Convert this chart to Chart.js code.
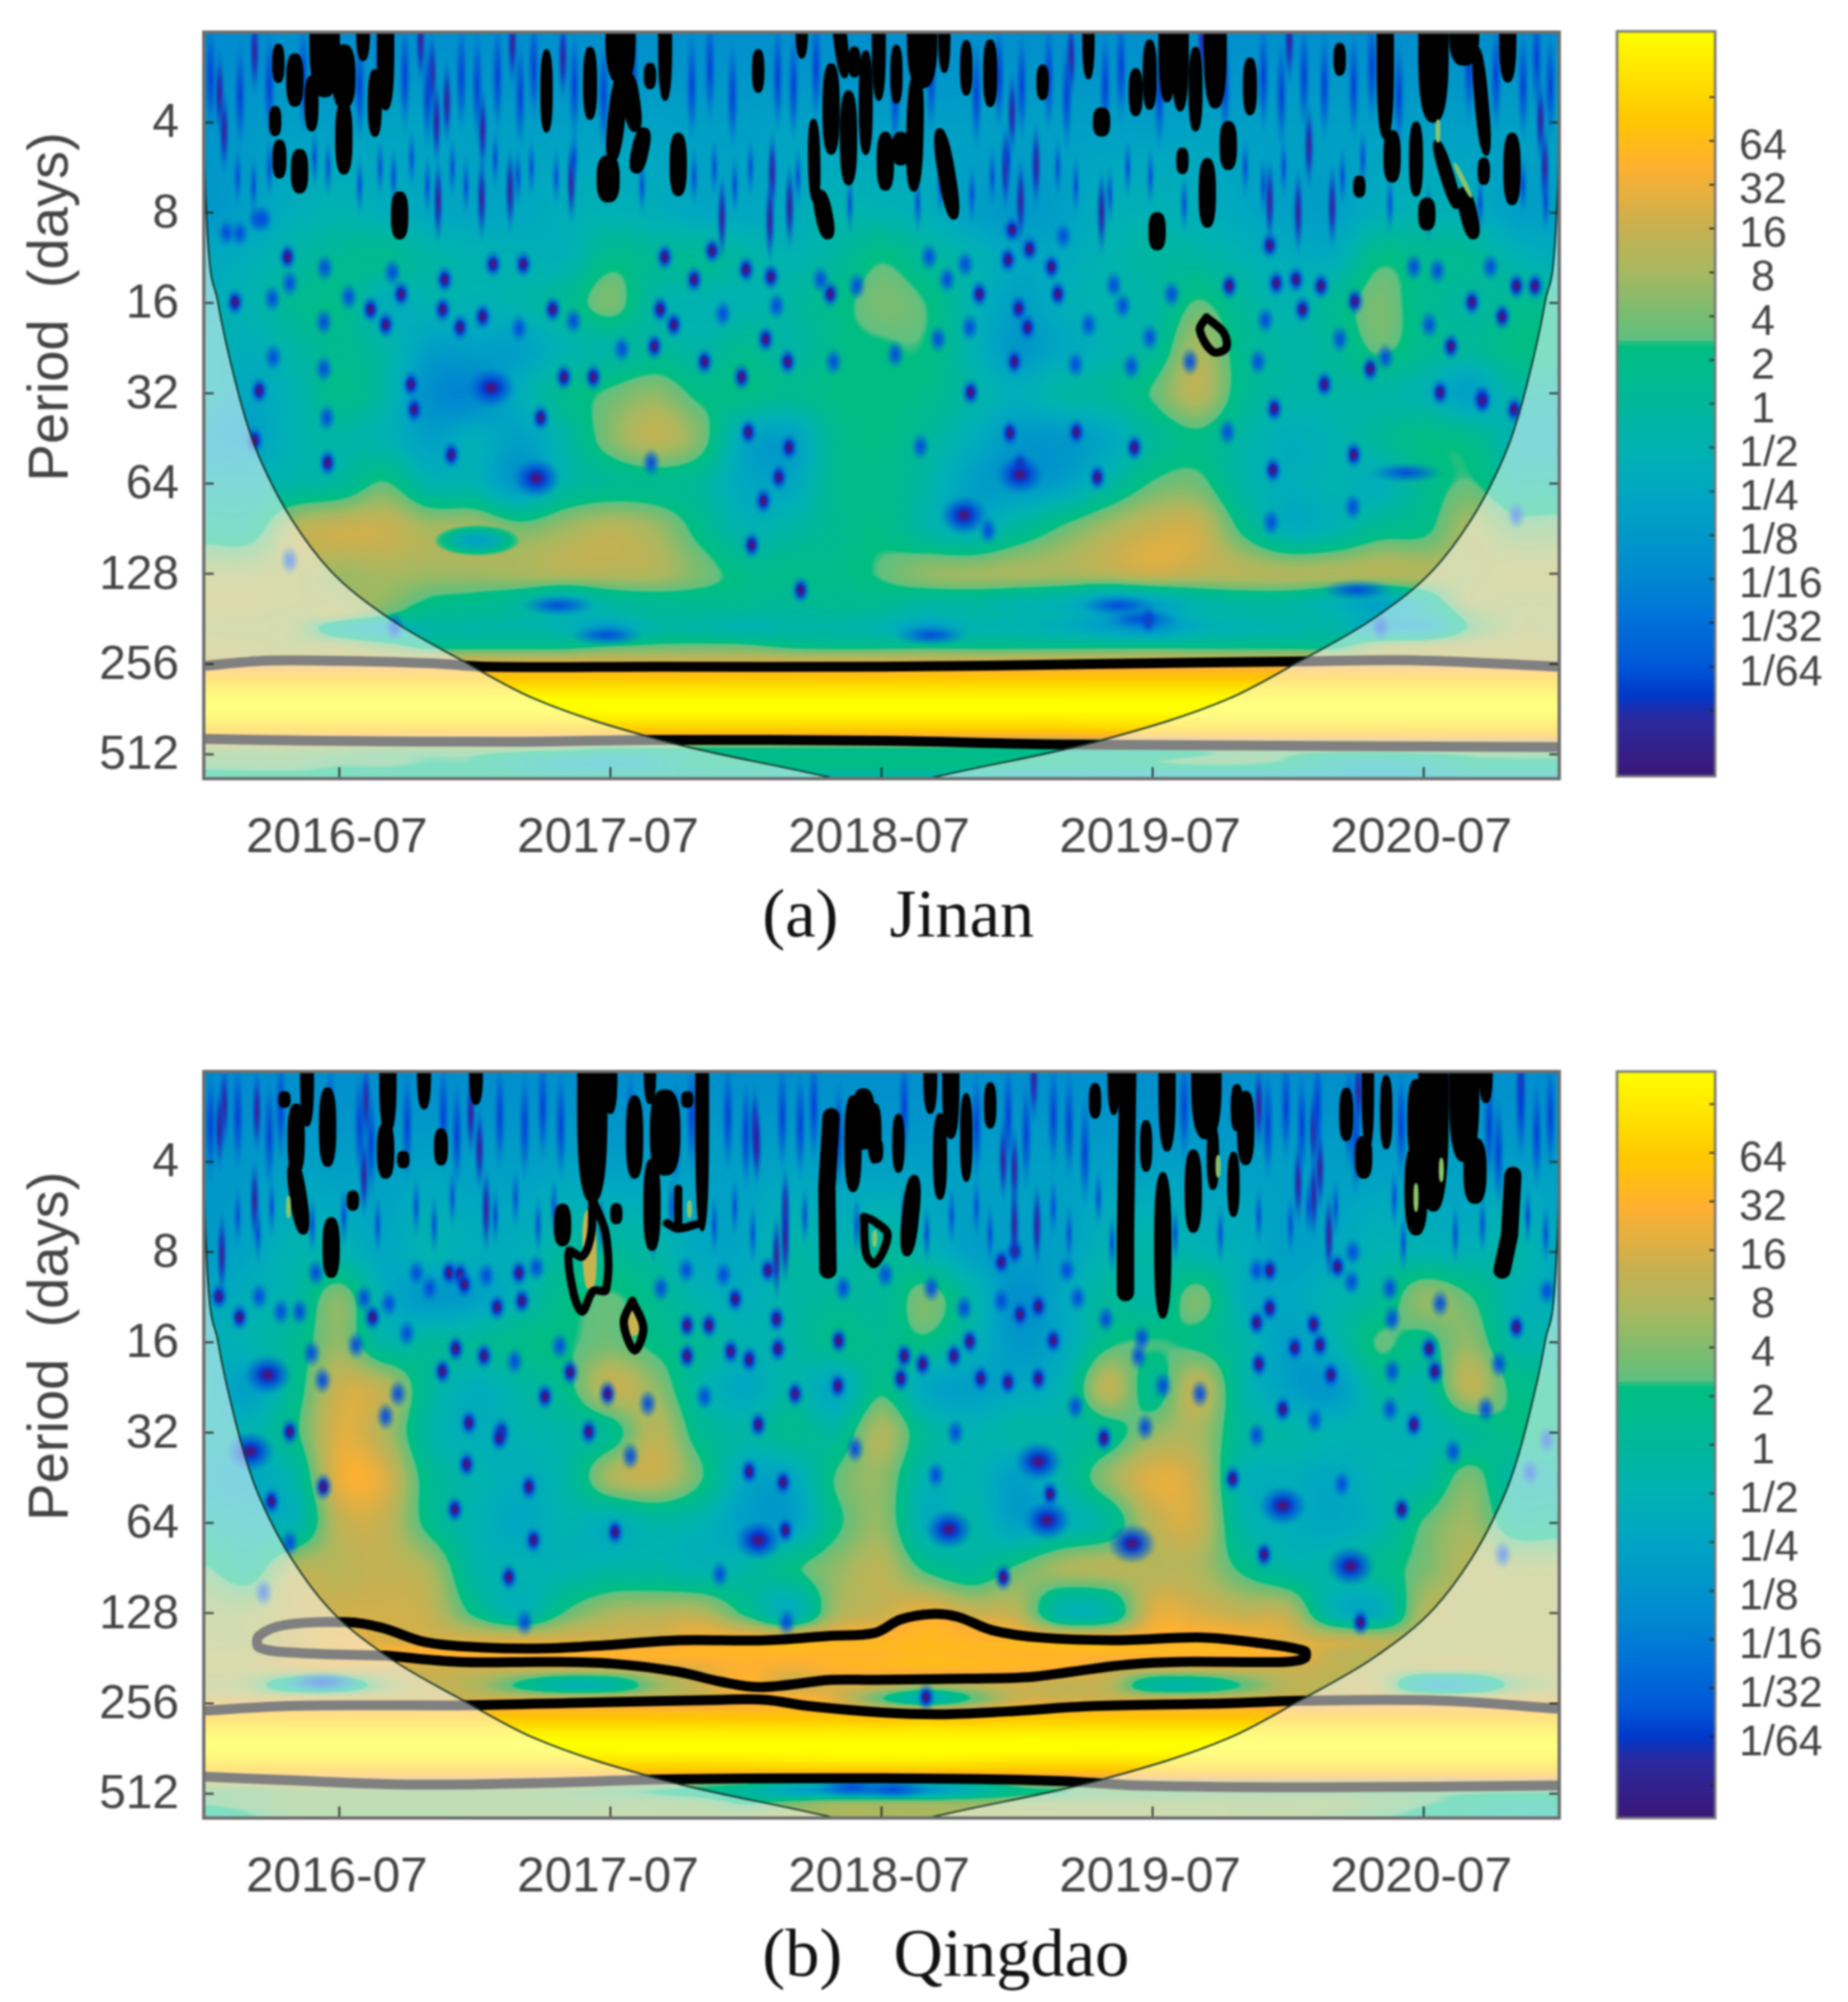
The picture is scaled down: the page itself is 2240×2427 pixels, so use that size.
<!DOCTYPE html>
<html><head><meta charset="utf-8">
<script src="https://cdn.jsdelivr.net/npm/chart.js@4"></script>
<style>html,body{margin:0;background:#fff;width:2240px;height:2427px;overflow:hidden}canvas{position:absolute;filter:blur(.8px)}</style>
</head><body>
<canvas id="ja" width="1960" height="1167" style="left:0;top:0"></canvas>
<canvas id="qa" width="1960" height="1167" style="left:0;top:1260px"></canvas>
<canvas id="jb" width="290" height="1000" style="left:1950px;top:0"></canvas>
<canvas id="qb" width="290" height="1000" style="left:1950px;top:1260px"></canvas>
<script>
const colMonths=[0,2,4,6,8,10,12,14,16,18,20,22,24,26,28,30,32,34,36,38,40,42,44,46,48,50,52,54,56,58,60];
const rowLog2Periods=[1,2,3,3.5,4,4.5,5,5.5,6,6.5,7,7.3,7.45,7.6,7.8,7.95,8.1,8.45,8.75,8.95,9.1,9.27];
const xTickMonths=[6,18,30,42,54];
const xTickLabels=['2016-07','2017-07','2018-07','2019-07','2020-07'];
const yTickPeriods=[4,8,16,32,64,128,256,512];
const barTickPowers=[-7,-6,-5,-4,-3,-2,-1,0,1,2,3,4,5,6,7];
const barTickLabels=['','1/64','1/32','1/16','1/8','1/4','1/2',' 1',' 2',' 4',' 8','16','32','64',''];
const coiLeft=[[0,1],[0.02,2],[0.1,2.9],[0.62,3.98],[1.5,4.97],[2.16,5.52],[2.92,5.96],[3.9,6.4],[5.55,6.95],[8.07,7.47],[11.5,7.97],[14.6,8.38],[20.2,8.84],[27.6,9.25],[30,9.4]];
const coiRight=[[32.4,9.25],[39.8,8.84],[45.4,8.38],[48.5,7.97],[51.93,7.47],[54.45,6.95],[56.1,6.4],[57.08,5.96],[57.84,5.52],[58.5,4.97],[59.38,3.98],[59.9,2.9],[59.98,2],[60,1]];

const jinanPower=[
[-3.8,-3.8,-3.6,-3.6,-3.6,-3.6,-3.6,-3.6,-3.6,-3.6,-3.6,-3.6,-3.6,-3.6,-3.6,-3.6,-3.6,-3.6,-3.6,-3.6,-3.6,-3.6,-3.6,-3.6,-3.6,-3.6,-3.6,-3.6,-3.6,-3.6,-3.6],
[-3.2,-3,-2.6,-2.6,-2.4,-2.4,-2.6,-2.6,-2.6,-2.6,-2.4,-2.6,-2.6,-2.4,-2.6,-2.6,-2.6,-2.6,-2.6,-2.6,-2.6,-2.6,-2.4,-2.6,-2.6,-2.6,-2.6,-2.6,-2.6,-2.6,-2.6],
[-3,-2.5,-1.5,-1,-1.5,-2,-2.2,-2,-1.5,-1.2,-1.5,-2,-2,-1.8,-1,-1,-1.5,-2.5,-3,-2.5,-1.5,-1.2,-1.5,-2,-2.5,-2.5,-1.5,-1.2,-1.5,-2.5,-2.5],
[-2,-1.5,-.5,.3,.5,-.5,-1,-1.2,-1.2,.8,.2,.3,-.5,-1,-.2,1.2,0,-1,-2,-1.8,-1,-.3,-.3,-1,-1.6,-1.6,1,.5,.3,-1,-1.5],
[-1.5,-1,.3,.8,-1.5,-1,-1.2,-.8,.3,2,-.5,-1,-1,-.3,.8,2,1.3,-1,-2.5,-1.5,-.8,-.5,1.5,0,-1,.3,2,.5,-.3,.5,.5],
[-1,-1.5,-.5,.5,-.5,-2.5,-2.5,-2.5,-1,-.5,0,-.5,.5,-.5,.8,1.2,1.2,-1,-3,-2,-1,0,3,.5,-.5,0,1.6,.5,0,1,1],
[-1,-2,-1,.8,-.5,-3.5,-4,-1.5,.5,1.6,2.4,1,1,.5,1,1.1,.8,-.5,-1.5,-.5,0,1.5,3.5,.5,-.5,-.5,-.5,-1,-2.5,-.5,-.5],
[-2,-2.5,-1,-.5,-1,-2.5,-1.5,-2.5,-.5,2.2,3.6,2,-2,-2.5,.5,1,0,-1.5,-3,-3,-2,0,1,-.5,-1.5,-1,0,1,.8,-1,-1],
[-1,-1,-.5,0,1.5,-.8,-1,-3,-.5,.3,.5,0,-2,-2,.5,.8,-.5,-2.5,-3,-2.5,-.5,1.5,1.8,-.5,-1.5,-1,-1.5,.5,1.5,0,0],
[.5,.5,3.3,4,4,3,3,2,2.8,3.5,2.8,.8,-1,-.5,.5,1,-.5,-1.5,0,1.6,3,4,4,1,-1.5,-1,.5,1,3,2,2],
[3,3,3.2,2.8,3,2.8,2.8,3,3.3,3.3,3.2,2,.8,.8,.8,1.5,2.5,2.8,3,3,3.4,4,3.6,3.4,3.2,3.2,3.3,3.2,3,3.4,3.4],
[3.5,3.5,3.2,3,2.5,1.2,.8,0,-1.5,0,.5,.6,.5,.2,.5,.5,0,0,-.5,-1,-2.5,-2,-.5,0,0,-1,-2,0,3,3,3],
[3.3,3.2,3,3,1.5,.4,.2,-.3,-1.2,-.8,0,0,-.2,-.2,0,-.2,-1,-.5,-.8,-1.2,-2.5,-2.8,-1,-.5,-.4,-.8,-2,-1,2,3,3],
[3,3,2.8,0,-1.5,-.5,-.5,-.5,-1,-2.5,-.5,-.5,-1,-.5,-.5,-1,-2.5,-1,-1,-1.5,-2.5,-3.5,-1.5,-1,-.8,-.5,-2,-2,1.5,3,3],
[3.5,3.3,3,3,2,.8,.8,.8,.8,1.3,1.6,1.7,1.6,1,.8,.8,.8,.8,.8,.8,.8,.8,.8,.8,.8,.8,2.5,3,3.3,3.5,3.5],
[3.8,3.8,3.8,3.8,3.8,3.8,3.8,3.8,3.8,3.8,3.8,3.8,3.8,3.8,3.8,3.8,3.8,3.8,3.8,3.8,3.8,3.8,3.8,3.8,3.8,3.8,3.8,3.8,3.8,3.8,3.8],
[6,6,6,6,6,6,6,6,6,6,6,6,6,6,6,6,6,6,6,6,6,6,6,6,6,6,6,6,6,6,6],
[8.5,8.5,8.5,8.5,8.5,8.5,8.5,8.5,8.5,8.5,8.5,8.5,8.5,8.5,8.5,8.5,8.5,8.5,8.5,8.5,8.5,8.5,8.5,8.5,8.5,8.5,8.5,8.5,8.5,8.5,8.5],
[6.3,6.3,6.3,6.3,6.3,6.3,6.3,6.3,6.3,6.3,6.3,6.3,6.3,6.3,6.3,6.3,6.3,6.3,6.3,6.3,6.5,6.5,6.5,6.5,6.5,6.5,6.5,6.5,6.5,6.5,6.5],
[2.5,2.5,2.5,2.3,2,2,2,1.8,1.5,1,1,1,1,1,1,1,1,1,1,1,1,1,1.5,2,2,2,2,2.2,2.2,2.2,2.2],
[1.8,1.8,1.8,1.5,1.5,1.3,1.2,0,-1,-1.5,-.5,1,1,1,1,1,1,1,1,1,.5,1.2,1.5,1.5,1,-.5,-1,-.5,.8,1,1],
[.8,1,1,1,1,1,1,.8,.5,.8,.5,0,-.3,-.5,-.5,-.5,-.5,-1,-1.5,-1.5,-1.5,-1.5,-1.5,-1.5,-1.5,-1.5,-1.5,-1.5,-1,-1,-1]];

const qingdaoPower=[
[-3.8,-3.8,-3.6,-3.6,-3.6,-3.6,-3.6,-3.6,-3.6,-3.6,-3.6,-3.6,-3.6,-3.6,-3.6,-3.6,-3.6,-3.6,-3.6,-3.6,-3.6,-3.6,-3.6,-3.6,-3.6,-3.6,-3.6,-3.6,-3.6,-3.6,-3.6],
[-3.2,-3,-2.6,-2.6,-2.6,-2.4,-2.6,-2.6,-2.4,-2.6,-2.6,-2.6,-2.6,-2.4,-2.6,-2.6,-2.6,-2.6,-2.6,-2.6,-2.6,-2.6,-2.6,-2.6,-2.6,-2.6,-2.6,-2.6,-2.6,-2.6,-2.6],
[-2.8,-2.2,-1,-1,-2,-1,-1.5,-1.5,-.2,0,-.5,-2,-2,-.5,-1,0,-1,-2.5,-2.5,-2.5,-1,-.5,-1,-1.5,-2.5,-2,-1,-1,-1.2,-.5,-2],
[-2,-1.5,-.5,2.2,-1.5,-3,-2.5,-1,.8,1.5,.5,-1,-1.5,-.5,0,0,2,-.5,-3.5,-2,0,-.5,2,-1.5,-2,-1,0,2.5,1.5,-1,-1.5],
[-1.5,-1,.3,2.5,-.5,0,0,.8,1.2,1.8,1,.2,-1,-.5,.8,.5,1,-1,-3,-2,1,1.4,1,-.5,-2.5,-1,1.5,.8,2.5,-.5,-.5],
[-1,-2.5,.5,4,3.5,0,-1.5,-.5,.8,3.8,2.5,-.5,-2,-.5,-2,1,-2,-2.5,-2,-1,3.6,.5,3.8,-.5,-2.5,-3,0,-.5,3.6,1,1],
[-1,-1,1,4.5,3.2,-.5,-1.5,-1,-.5,.5,3.5,.5,-.5,.5,0,3.2,0,-1,-.5,-.5,.5,2.5,3,0,-.5,-1,-1,-1,0,1,1],
[-1.5,-2,-.5,4.8,4.5,.5,-.8,-1.5,-.5,3,3.8,1.5,-2,-2,1.5,2.5,-1,-1,-2.5,-.5,2.5,4.6,3.8,-1,-1.5,-2,-1,-.5,2,-.5,-.5],
[-.5,-1,-1,3.6,3.8,.8,-1,-2,-1,-1.5,-.5,-1,-2.5,-2.5,1,2.5,-1.5,-.5,-2.5,-1.5,0,3.6,4,-.5,-1.5,-2,-1,1.5,2.8,.5,.5],
[1.5,.5,3.2,3.5,3.8,3,-.5,-1,-1,-.5,-.5,-1,-.5,1,2.5,3.5,1,0,1.6,3,3.4,3.4,3.2,1,-.5,-.5,.5,2,3.4,3,3],
[2.8,2.8,3.8,4.2,4.2,3.8,1,-1,1.5,3,3.3,3.3,1,-1.5,3,4,5,4,3.5,-.8,-.5,4.5,4.4,3.8,3.5,-1,-1.5,3.2,3.2,3.2,3.2],
[3,3,4,4.8,4.4,4.4,4.4,4.4,4.4,4.4,4.4,5.2,5.4,5.4,5.5,5.6,5.8,5.6,5.6,5.5,5.5,5.5,5.6,5.3,4.6,4,3.5,3.3,3.3,3.3,3.3],
[3.2,3.3,3.8,4.5,5.4,5.5,5.5,5.5,5.5,5.5,5.6,5.6,5.6,5.6,5.6,5.6,5.8,5.7,5.6,5.6,5.6,5.6,5.6,5.5,5.3,3.8,3.5,3.3,3.3,3.3,3.3],
[3.4,3.4,4,4.3,4.2,4.2,4.2,4.2,4.2,4.2,4.3,4.8,5.4,5,5.5,5.6,5.7,5.7,5.6,5.4,4.5,4.2,4.2,4.2,4.1,3.8,3.3,3.2,3.4,3.4,3.4],
[3,2.5,-.5,-.5,2.5,3.8,3.2,1,-1,-.5,2.5,4,5.5,4,4.5,4,3,3.6,4.2,3.8,3.5,-.3,-.5,1.5,3.5,3.5,3.3,-1.5,-1.5,2,3],
[4,4,4.2,4.2,4.2,4.2,4.2,4.2,4.2,4.2,4.2,4.2,5,5.5,4.5,1.5,-1,1.5,4,4.2,4.2,4.2,4.2,4.2,4.2,4.2,4.2,4.2,4.2,4.2,4.2],
[6,6,6,6,6,6,6,6,6,6,6,6,6,6,6,5.5,5.5,5.5,6,6,6,6,6,6,6,6,6,6,6,6,6],
[8.5,8.5,8.5,8.5,8.5,8.5,8.5,8.5,8.5,8.5,8.5,8.5,8.5,8.5,8.5,8.5,8.5,8.5,8.5,8.5,8.5,8.5,8.5,8.5,8.5,8.5,8.5,8.5,8.5,8.5,8.5],
[6.3,6.3,6.3,6.3,6.3,6.3,6.3,6.3,6.3,6.3,6.3,6.3,6.3,6.3,6.3,6.3,6.3,6.3,6.3,6.3,6.3,6.5,6.5,6.5,6.5,6.5,6.5,6.5,6.5,6.5,6.5],
[2,2.2,2.5,2.5,2.5,2.5,2.5,2.5,2.3,1.8,1.5,1,0,-2,-3,-3,-3,-1,1,1.5,2,2,2,2,2,2,2,2,2,2,2],
[1.5,1.8,2.2,2.2,2.2,2.2,2.2,2.2,2.2,2.2,2.2,2,1.2,1.8,2.5,2.5,2.5,2.5,2.5,2.5,2.5,2.5,2.5,2.5,2.5,2.5,2,1.5,1,.5,.5],
[.5,1.2,2,2,2,2,2.2,2.2,2.2,2.5,2.5,2.5,2.8,3,3,3,3,3,3,3,3,2.8,2.8,2.5,2.5,2,1.5,1,.3,0,-.5]];

const jinanMinimaDeep=[[3.7,3.49],[10.66,3.74],[12.8,3.57],[14.14,3.57],[20.4,3.49],[22.5,3.42],[24,3.63],[25.1,3.71],[21.7,3.74],[27.73,3.9],[8.73,3.9],[1.38,3.99],[7.38,4.07],[10.57,4.07],[12.34,4.15],[11.34,4.27],[8.05,4.24],[15.44,4.07],[20.2,4.07],[20.8,4.24],[24.87,4.4],[19.94,4.48],[22.16,4.65],[25.84,4.65],[23.8,4.82],[15.94,4.82],[17.24,4.82],[9.17,4.9],[2.45,4.97],[9.31,5.18],[14.91,5.27],[2.25,5.52],[10.95,5.68],[5.48,5.77],[24.1,5.43],[25.9,5.6],[25.45,5.93],[24.77,6.19],[24.25,6.68],[26.42,7.18],[35.78,3.19],[36.55,3.4],[35.59,3.52],[37.52,3.6],[34.33,3.9],[37.8,3.9],[36.07,4.06],[36.46,4.27],[35.88,4.65],[45.39,3.81],[47.47,3.78],[48.34,3.74],[49.45,3.81],[48.63,4.07],[50.95,3.98],[55.2,4.48],[56.13,3.99],[57.47,4.15],[58.1,3.81],[58.92,3.81],[51.63,4.73],[49.6,4.9],[54.72,4.99],[56.56,5.06],[33.94,4.99],[47.18,3.36],[47.38,5.17],[56.6,5.08],[58,5.18],[35.68,5.44],[38.62,5.43],[41.19,5.6],[36.13,5.79],[39.55,5.93],[50.9,5.68],[47.32,5.85],[41.81,7.51]];
const jinanMinimaLight=[[1,3.22],[1.58,3.23],[2.35,3.07],[2.64,3.07],[5.35,3.61],[8.34,3.66],[27.3,3.74],[28.9,3.81],[6.41,3.93],[3.03,3.95],[3.8,3.78],[13.95,4.28],[5.31,4.21],[16.36,4.2],[22.97,4.12],[25.35,4.03],[18.5,4.51],[27.87,4.65],[3.07,4.6],[5.31,4.73],[19.8,5.77],[5.44,5.27],[3.8,6.85],[8.44,7.59],[38.04,3.26],[32.1,3.49],[33.7,3.57],[32.9,3.74],[39.16,4.24],[33.9,4.27],[32.5,4.4],[30.6,4.57],[38.58,4.68],[41.06,4.7],[43.65,4.65],[41.87,4.38],[40.67,4.03],[40.28,3.8],[42.84,3.9],[46.99,4.19],[50.28,4.4],[54.24,4.24],[52.3,4.6],[46.66,4.65],[53.56,3.6],[54.6,3.64],[56.95,3.6],[31.72,5.59],[45.31,5.43],[50.86,6.26],[47.24,6.43],[34.72,6.52],[52.1,7.59],[58.1,6.35]];
const jinanMinimaBig=[[12.73,4.94],[14.72,5.94],[33.65,6.35],[36.13,5.9]];
const jinanMinimaWide=[[15.69,7.35],[17.83,7.68],[51.05,7.18],[53.23,5.88],[40.5,7.35],[41.5,7.5],[32.2,7.68]];
const jinanTealHollows=[[12.1,6.63]];
const jinanStreakDeep=[[.7,1.68],[.9,2.1],[2.25,1.22],[9.6,1.1],[10.1,1.47],[10.76,1.77],[10.3,2],[12.34,2.08],[13.66,1.13],[15.9,1.28],[25.16,2.56],[25.06,3.08],[22.94,3.05],[25.93,2.93],[16.27,2.65],[13.56,2.75],[10.37,2.87],[12.3,2.84],[35.78,1.89],[38.39,1.28],[35.49,2.5],[36.84,2.47],[36.16,2.87],[39.74,2.99],[47.18,2.87],[48.44,2.99],[48.92,2.26],[49.95,2.93],[59.17,1.98],[59.36,2.5],[44.19,1.04],[48.05,1.1]];
const jinanStreakHigh=[[.3,1.5],[1.6,1.7],[2.9,1.6],[4.4,1.5],[6.9,1.6],[7.8,1.3],[8.9,1.5],[9.9,1.7],[11.4,1.5],[12.1,1.6],[13,1.5],[14,1.7],[14.6,1.4],[16.4,1.6],[17.7,1.7],[19,1.5],[21.6,1.6],[22.4,1.4],[23.4,1.7],[25.4,1.5],[26.1,1.6],[27.1,1.4],[30.6,1.7],[32.2,1.5],[34.2,1.7],[35.2,1.5],[36.2,1.6],[37.4,1.5],[38.2,1.7],[39.9,1.6],[40.6,1.4],[42.3,1.7],[45.2,1.6],[46.9,1.5],[47.7,1.7],[48.7,1.5],[49.6,1.6],[50.9,1.6],[51.7,1.4],[52.9,1.7],[56,1.4],[57.2,1.5],[58.4,1.6],[59,1.3],[59.6,1.6]];
const jinanStreakLow=[[1.5,2.6],[2.2,2.7],[2.9,2.5],[4.9,2.4],[5.5,2.5],[6.9,2.7],[7.8,2.5],[8.4,2.6],[9.2,2.4],[9.9,2.7],[11,2.5],[11.6,2.7],[12.9,2.4],[13.9,2.6],[14.5,2.5],[15.6,2.6],[16.4,2.4],[17.8,2.6],[19.4,2.7],[20.8,2.5],[21.7,2.6],[22.6,2.5],[23.5,2.7],[24.2,2.5],[26.3,2.6],[28.6,2.9],[31.6,2.9],[32.6,2.7],[34,2.8],[34.9,2.6],[35.6,2.4],[37.8,2.5],[38.6,2.7],[40.1,2.8],[40.9,2.5],[41.9,2.6],[43.4,2.9],[46.1,2.5],[46.9,2.7],[47.8,2.5],[50.4,2.6],[51.3,2.4],[52.5,2.9],[54.2,3],[56.5,2.9],[58.4,2.7],[59.4,2.9]];
const jinanFine=[[3.3,1.19,3.3,1.5],[3.16,1.88,3.16,2.09],[15.17,1.25,15.17,2.05],[19.75,1.4,19.75,1.57],[24.54,1.25,24.54,1.61],[26.47,1,26.47,1.23],[26.99,2.02,27.05,2.83],[28.8,1.22,28.8,1.44],[30.66,1.2,30.66,1.73],[32.78,1,32.78,1.39],[33.75,1.15,33.75,1.64],[37.13,1.42,37.13,1.69],[39.16,1,39.16,1.46],[43.32,2.34,43.32,2.51],[50.28,1.18,50.28,1.42],[51.15,2.65,51.15,2.77],[56.66,2.45,56.66,2.63]];
const jinanMedium=[[3.35,2.26,3.35,2.55],[17.1,1.23,17.1,1.9],[20.42,1,20.42,1.69],[27.96,1,28.35,1.44],[29.3,1.27,29.3,2.29],[7.57,1.48,7.57,2.09],[4.77,1.55,4.77,2.03],[7.05,1,7.05,1.25],[29.88,1,29.88,1.69],[34.81,1.15,34.81,1.76],[41.25,1.47,41.25,1.86],[41.87,1.15,41.87,1.79],[43.9,1.23,43.9,2.03],[46.31,1.35,46.31,1.85],[53.66,2.06,53.66,2.75],[54.63,2.26,55.4,2.89],[56.37,1.23,56.75,2.3]];
const jinanBold=[[4.24,2.38,4.24,2.7],[8.67,2.85,8.67,3.21],[19.46,2.14,19.17,2.48],[28.54,1.73,28.54,2.61],[27.77,1.43,27.77,2.27],[6.2,1.85,6.2,2.49],[4.03,1.32,4.03,1.74],[8.05,1.03,8.05,1.78],[18.45,1.53,18.1,2.36],[18.8,1.53,19.07,2.02],[27.3,2.83,27.6,3.21],[31.53,1.53,31.43,2.68],[30.17,2.19,30.17,2.67],[30.85,2.19,30.85,2.39],[32.6,2.15,33.17,2.99],[45.35,2.07,45.35,2.44],[44.42,2.48,44.42,3.08],[42.2,3.08,42.2,3.33],[52.6,2.17,52.6,2.58],[54.14,2.92,54.14,3.11],[55.79,2.8,56.17,3.21],[57.91,2.2,57.91,2.83],[57.72,1,57.72,1.47],[21,2.2,21,2.73],[43.22,1,43.22,1.79],[42.64,1,42.64,1.69],[39.74,1.92,39.74,2.07],[52.3,1,52.3,2.1]];
const jinanHeavy=[[17.9,2.48,17.9,2.77],[6.2,1.25,6.2,1.73],[44.77,1,44.77,1.73]];
const jinanMassive=[[5.35,1,5.35,1.57],[18.45,1,18.45,1.42],[31.8,1,31.8,1.47],[54.43,1,54.43,1.85],[55.79,1.06,55.79,1.22]];
const jinanRings=[[44.38,4.16,44.09,4.3,44.67,4.54,45.25,4.5,45.15,4.33,44.38,4.16]];
const jinanBands=[[0,8.02,3,7.96,10,7.99,12.5,8.03,20,8.03,30,8.03,39.4,8,48.6,7.97,53.8,7.96,60,8.03],[0,8.83,5,8.85,14,8.86,20,8.84,30,8.85,38,8.89,60,8.92]];
const jinanFlecks=[[54.63,1.99,54.63,2.2],[55.4,2.47,56.07,2.81]];
const jinanPatches=[];

const qingdaoMinimaDeep=[[.67,3.49],[1.58,3.72],[7.47,3.72],[10.86,3.23],[11.34,3.25],[11.53,3.36],[13.95,3.23],[12.98,3.61],[14.08,3.54],[11.15,4.07],[12.4,4.15],[16.21,4.33],[10.56,4.32],[15.1,4.6],[17.87,4.57],[21.39,3.81],[22.36,3.81],[21.39,4.15],[23.32,4.1],[24.14,4.19],[25.41,4.07],[23.52,3.52],[25.35,3.74],[28.1,3.98],[28.06,4.48],[26.17,4.57],[24.97,3.2],[11.73,4.89],[13.17,4.99],[17.04,4.99],[24.54,4.91],[3.8,4.99],[13.08,5.06],[11.63,5.35],[5.29,5.6],[2.99,5.76],[14.39,5.6],[11.11,5.85],[24.14,5.43],[25.64,5.55],[14.59,6.19],[18.2,6.1],[24.54,6.19],[25.74,6.08],[13.5,6.6],[35.9,2.99],[35.3,3.11],[36.94,3.6],[36.13,3.69],[37.6,3.98],[33.9,3.99],[31,4.15],[31.82,4.24],[33.2,4.15],[30.85,4.4],[34.39,4.4],[35.59,4.44],[36.94,4.4],[39.84,5.06],[46.7,4.24],[47.18,3.2],[47.18,3.62],[46.6,3.78],[49.12,3.8],[49.4,4.03],[48.29,4.06],[49.89,4.36],[50.18,3.16],[58.1,3.83],[54.24,4.07],[54.49,4.32],[47.76,4.74],[53.56,4.91],[37.46,5.68],[35.39,6.6],[45.54,5.51],[53.02,5.85],[46.93,6.35],[51.2,7.1],[31.97,7.93]];
const qingdaoMinimaLight=[[2.45,3.49],[3.41,3.66],[4.24,3.66],[7.09,3.51],[8.19,3.57],[4.96,3.23],[9.41,3.23],[9.99,3.4],[12.5,3.26],[14.72,3.17],[8.98,3.9],[6.74,4.03],[4.77,4.12],[13.76,4.21],[15.75,4.04],[8.59,4.57],[5.25,4.42],[19.65,4.68],[22.16,4.6],[23,3.25],[21.35,3.2],[20.23,3.4],[28.3,3.4],[8.05,4.82],[18.88,5.26],[28.83,5.18],[22.84,6.57],[3.8,6.22],[14.2,7.1],[25.8,7.1],[2.64,6.77],[38.2,3.2],[30.17,3.25],[32.2,3.4],[35.3,3.54],[38.68,3.51],[33.65,3.62],[39.93,3.74],[41.38,4.15],[41.52,3.95],[42.45,4.48],[44.09,4.57],[38.58,4.71],[33.27,5],[41.67,4.94],[46.6,3.2],[50.86,3],[50.8,3.33],[52.5,3.4],[54.72,3.57],[52.6,3.74],[52.6,4.32],[57.33,4.24],[59.46,3.43],[49.17,4.86],[52.5,4.74],[56.75,4.74],[46.6,5.03],[32.4,5.47],[50.37,5.57],[55.3,5.21],[57.5,6.35],[58.7,5.44],[59.46,5.08]];
const qingdaoMinimaBig=[[2.83,4.36],[2.06,5.21],[36.94,5.32],[37.33,5.97],[32.98,6.07],[41.09,6.23],[47.76,5.81],[50.76,6.48],[24.54,6.19]];
const qingdaoMinimaWide=[[5.25,7.76],[28.7,8.93],[30.5,8.95]];
const qingdaoTealHollows=[];
const qingdaoStreakDeep=[[.9,1.37],[.7,1.62],[2.35,1.44],[7.18,1.34],[7.09,2.14],[11.82,1.47],[12.2,1.86],[12.5,2.53],[25.74,2.53],[25.74,2.87],[25.35,3.05],[24.39,1.62],[24.48,1.8],[2.25,2.44],[.8,3.02],[35.39,1.98],[35.88,2.08],[36.74,1.1],[49.4,2.08],[49.12,1.65],[48.44,2.23],[49.12,2.38],[46.7,1.38],[58.3,1.13],[51.1,1.22],[35.88,2.7],[36.88,2.71],[49.8,2.82]];
const qingdaoStreakHigh=[[.3,1.6],[1.5,1.5],[2.9,1.7],[3.4,1.4],[5.6,1.5],[6.9,1.6],[7.4,1.8],[9,1.6],[10.6,1.5],[11.2,1.7],[13.1,1.5],[14.2,1.6],[15,1.4],[15.8,1.6],[18.9,1.6],[20.9,1.7],[21.6,1.5],[23.2,1.5],[24,1.7],[25.6,1.5],[26.4,1.6],[27,1.4],[28.1,1.7],[31,1.4],[34.2,1.6],[35.6,1.5],[36.4,1.7],[37.6,1.5],[38.3,1.6],[39,1.9],[41,1.4],[43.4,1.4],[47.1,1.6],[47.9,1.4],[48.6,1.6],[49.3,1.4],[50.7,1.5],[51,1.8],[53,1.6],[56.9,1.6],[57.3,1.9],[58.3,1.4],[59,1.7],[59.6,1.5]];
const qingdaoStreakLow=[[1.5,2.6],[2.4,2.8],[3,2.5],[4.8,2.7],[6.2,2.6],[7.7,2.7],[9.4,2.5],[10.2,2.7],[11,2.4],[12.9,2.6],[13.8,2.4],[14.8,2.7],[15.5,2.5],[17.6,2.7],[19.9,2.8],[20.7,2.5],[22.6,2.7],[23.5,2.5],[24.3,2.8],[26.6,2.6],[27.7,2.4],[28.9,2.7],[31,2.6],[32,2.8],[33.1,2.6],[34.2,2.5],[34.8,2.8],[37.6,2.5],[38.3,2.8],[39.6,2.4],[40.2,2.9],[43,2.8],[45,2.8],[46.7,2.6],[48.1,2.7],[48.9,2.5],[50.1,2.5],[52.7,2.4],[53.1,2.9],[55.4,2.8],[56.6,2.7],[58.6,2.6],[59.4,2.8]];
const qingdaoFine=[[3.57,1.28,3.57,1.34],[8.83,1.94,8.83,2.01],[21.4,1.28,21.4,1.34],[18.26,2.52,18.26,2.63],[6.6,2.38,6.6,2.48],[19.75,1,19.75,1.3],[30.75,1.53,30.75,2.06],[33.75,1.3,33.75,2.16],[34.81,1.18,34.81,1.57],[39.45,1.19,39.45,1.46],[40.28,1,40.28,1.42],[41.71,1.6,41.71,2.05],[44.67,1.65,44.67,2.25],[45.73,1.2,45.73,1.6],[45.58,1.95,45.58,2.55],[51.53,1,51.53,1.8],[52.34,1.1,52.34,1.8],[29.8,1.8,29.8,1.95]];
const qingdaoMedium=[[4.57,1,4.57,1.54],[9.75,1,9.75,1.35],[12.05,1,12.05,1.3],[10.5,1.7,10.5,1.97],[18,1,18,1.4],[22.06,1,22.06,2.7],[29.69,1.42,29.69,1.95],[32.16,1,32.16,1.4],[32.59,1.53,32.59,2.35],[50.57,1.25,50.57,1.7],[56.75,1,56.75,1.28]];
const qingdaoBold=[[4.09,1.44,4.09,2.05],[3.99,2.07,4.38,2.72],[5.48,1.26,5.48,1.97],[5.64,2.7,5.64,3.2],[8.15,1,8.15,1.6],[8.05,1.65,8.05,2.1],[15.88,2.55,15.88,2.85],[19.07,1.35,19.07,2.1],[19.84,2.05,19.84,2.9],[27.77,1.5,27.58,2.29,27.63,3.2],[28.74,1.35,28.74,2.25],[33.07,1,33.07,1.66],[31.43,2.23,31.14,2.96],[40.9,1,40.8,2.81,40.8,3.45],[42.64,1,42.64,1.8],[42.45,2.2,42.45,3.65],[43.8,1.95,43.8,2.7],[46.12,1.3,46.12,1.95],[51.34,1.8,51.34,2.1],[53.66,1.17,53.66,1.9],[57.95,2.15,57.8,2.81,57.47,3.2]];
const qingdaoHeavy=[[29.2,1.3,29.2,1.75],[53.66,1.92,53.66,2.7],[56.27,1.85,56.27,2.35]];
const qingdaoMassive=[[17.2,1,17.2,2.3],[20.42,1.35,20.42,2],[44.38,1,44.38,1.6],[54.43,1,54.43,2.4],[55.79,1.05,55.79,1.85]];
const qingdaoRings=[[17.2,2.41,17.8,2.81,17.8,3.42,17.24,3.43,16.75,3.66,16.36,3.45,16.17,2.99,16.75,3.05,17.14,2.81,17.2,2.41],[18.97,3.54,18.59,3.78,19.07,4.09,19.46,3.84,18.97,3.54],[29.22,2.61,29.32,3.02,29.7,3.13,30.27,2.81,29.69,2.66,29.22,2.61],[20.5,2.68,21,2.74,21.97,2.68],[21,2.3,21,2.7]];
const qingdaoBands=[[8.05,7.47,4.19,7.44,2.45,7.38,2.45,7.25,3.6,7.13,6.31,7.1,7.86,7.16,9.79,7.32,12.3,7.38,15.2,7.39,18.1,7.35,21,7.3,24.87,7.3,27.77,7.25,29.69,7.22,30.85,7.07,32.2,7.01,33.36,7.04,34.9,7.19,37,7.27,40.3,7.3,44.2,7.27,46.7,7.33,48.73,7.42,48.73,7.5,47.86,7.54,43.2,7.54,40.9,7.57,38.4,7.65,36.46,7.71,32.6,7.73,29.69,7.74,27.77,7.74,24.67,7.82,22.9,7.76,21,7.65,18.1,7.56,15.2,7.54,11.34,7.54,8.05,7.47],[0,8.08,3.6,8.03,7.47,8.02,11.7,8.02,17.1,7.99,22.9,7.96,24.87,7.96,26.8,8.03,30,8.1,32.6,8.12,35.5,8.09,39.35,8.03,45.15,8,48.6,7.97,54.8,7.97,60,8.06],[0,8.81,3.6,8.85,9.4,8.9,15.2,8.88,20.6,8.84,30,8.83,38,8.86,41.3,8.91,49,8.93,60,8.91]];
const qingdaoFlecks=[[53.66,2.26,53.66,2.53],[54.78,1.98,54.78,2.2],[44.9,1.95,44.9,2.15],[29.7,2.78,29.7,2.92],[3.75,2.4,3.75,2.6],[21.5,2.45,21.5,2.6]];
const qingdaoPatches=[[17.05,2.6,17.1,3.35],[18.98,3.72,19,3.86]];

const colourStops=[[-8.5,[58,24,120]],[-7.2,[42,42,160]],[-6.7,[0,56,200]],[-6,[0,88,216]],[-5,[0,112,216]],[-4,[0,136,208]],[-3,[0,152,200]],[-2,[0,168,192]],[-1,[0,178,176]],[0,[0,184,154]],[1.3,[0,190,128]],[1.45,[96,192,128]],[2,[120,188,112]],[3,[168,184,96]],[4,[200,176,80]],[5.4,[255,176,48]],[6.5,[255,200,0]],[8.5,[255,255,0]]];
function colourOf(v){
  if(v<=colourStops[0][0])return colourStops[0][1];
  for(let i=1;i<colourStops.length;i++){const a=colourStops[i-1],b=colourStops[i];
    if(v<=b[0]){const t=(v-a[0])/(b[0]-a[0]);return a[1].map((c,k)=>c+(b[1][k]-c)*t);}}
  return colourStops[colourStops.length-1][1];
}
const lut=[];for(let i=0;i<=2000;i++)lut.push(colourOf(-10+i*0.01));
function sprite(w,h,stops){
  const c=document.createElement('canvas');c.width=w;c.height=h;const g=c.getContext('2d');
  g.translate(w/2,h/2);g.scale(w/2,h/2);
  const r=g.createRadialGradient(0,0,0,0,0,1);stops.forEach(s=>r.addColorStop(s[0],s[1]));
  g.fillStyle=r;g.beginPath();g.arc(0,0,1,0,7);g.fill();return c;
}
const zero='rgba(0,120,210,0)';
const sDeep=sprite(24,36,[[0,'#4a1478'],[.2,'#4a1478'],[.36,'rgba(10,45,200,.95)'],[.68,'rgba(0,90,215,.45)'],[1,zero]]);
const sLight=sprite(24,36,[[0,'rgba(0,70,225,.95)'],[.4,'rgba(0,80,220,.7)'],[1,zero]]);
const sBig=sprite(60,50,[[0,'#4a1478'],[.16,'#3e1a8c'],[.34,'rgba(5,60,210,.95)'],[.7,'rgba(0,90,215,.5)'],[1,zero]]);
const sWide=sprite(90,26,[[0,'rgba(5,70,220,.95)'],[.4,'rgba(0,90,215,.7)'],[1,zero]]);
const sTallDeep=sprite(14,110,[[0,'rgba(75,20,125,.95)'],[.4,'rgba(30,40,190,.75)'],[1,zero]]);
const sTall=sprite(16,140,[[0,'rgba(0,55,215,.95)'],[.5,'rgba(0,75,215,.55)'],[1,zero]]);
const sLow=sprite(12,76,[[0,'rgba(0,55,220,.9)'],[.5,'rgba(0,85,215,.45)'],[1,zero]]);
const sTeal=sprite(106,38,[[0,'#00a0c4'],[.45,'#00aeb0'],[.8,'rgba(0,190,128,1)'],[.92,'rgba(60,190,128,.9)'],[1,'rgba(120,188,112,0)']]);

const heatPlugin={id:'heatCells',
  beforeDatasetsDraw(chart){
    const meta=chart.getDatasetMeta(0),el=meta.data,nc=colMonths.length,nr=rowLog2Periods.length,a=chart.chartArea;
    const xs=colMonths.map((_,j)=>el[j].x),ys=rowLog2Periods.map((_,i)=>el[i*nc].y);
    const vals=chart.data.datasets[0].data;
    const W=Math.round(a.right-a.left),H=Math.round(a.bottom-a.top);
    const off=document.createElement('canvas');off.width=W;off.height=H;const oc=off.getContext('2d');
    const img=oc.createImageData(W,H),d=img.data;
    const cr=(p0,p1,p2,p3,t)=>0.5*((2*p1)+(-p0+p2)*t+(2*p0-5*p1+4*p2-p3)*t*t+(-p0+3*p1-3*p2+p3)*t*t*t);
    const tmp=new Float64Array(nc);
    const xIdx=new Int32Array(W),xT=new Float64Array(W);
    for(let px=0,j=0;px<W;px++){const X=a.left+px+.5;while(j<nc-2&&X>=xs[j+1])j++;xIdx[px]=j;xT[px]=(X-xs[j])/(xs[j+1]-xs[j]);}
    for(let py=0,i=0;py<H;py++){
      const Y=a.top+py+.5;while(i<nr-2&&Y>=ys[i+1])i++;
      const t=(Y-ys[i])/(ys[i+1]-ys[i]);
      const i0=Math.max(i-1,0),i3=Math.min(i+2,nr-1);
      for(let j=0;j<nc;j++)tmp[j]=cr(vals[i0*nc+j].v,vals[i*nc+j].v,vals[(i+1)*nc+j].v,vals[i3*nc+j].v,t);
      for(let px=0;px<W;px++){
        const j=xIdx[px];
        const v=cr(tmp[Math.max(j-1,0)],tmp[j],tmp[j+1],tmp[Math.min(j+2,nc-1)],xT[px]);
        const c=lut[Math.max(0,Math.min(2000,Math.round((v+10)*100)))];
        const o=(py*W+px)*4;d[o]=c[0];d[o+1]=c[1];d[o+2]=c[2];d[o+3]=255;
      }
    }
    oc.putImageData(img,0,0);
    chart.ctx.drawImage(off,a.left,a.top);
  },
  afterDatasetDraw(chart,args){
    const ds=chart.data.datasets[args.index];
    if(!ds.blobWidth)return;
    const c=chart.ctx,a=chart.chartArea,el=args.meta.data,w=ds.blobWidth;
    c.save();c.beginPath();c.rect(a.left,a.top,a.right-a.left,a.bottom-a.top);c.clip();
    c.fillStyle=ds.blobColour;
    if(el.length===2){
      let x0=el[0].x,y0=el[0].y,x1=el[1].x,y1=el[1].y;
      if(y0<a.top+10){y0-=(y1-y0)*.3+30;}
      const cx=(x0+x1)/2,cy=(y0+y1)/2,dx=x1-x0,dy=y1-y0,len=Math.hypot(dx,dy);
      const A=len/2+w*.45,B=w/2,ux=dx/(len||1),uy=dy/(len||1),n=2.7;
      c.beginPath();
      for(let k=0;k<72;k++){const th=k/72*Math.PI*2,ct=Math.cos(th),st=Math.sin(th);
        const pa=A*Math.sign(ct)*Math.abs(ct)**(2/n),pb=B*Math.sign(st)*Math.abs(st)**(2/n);
        const X=cx+pa*ux-pb*uy,Y=cy+pa*uy+pb*ux;k?c.lineTo(X,Y):c.moveTo(X,Y);}
      c.closePath();c.fill();
    }else{
      c.strokeStyle=ds.blobColour;c.lineWidth=w;c.lineCap='round';c.lineJoin='round';c.beginPath();
      el.forEach((p,k)=>k?c.lineTo(p.x,p.y):c.moveTo(p.x,p.y));c.stroke();
    }
    c.restore();
  },
  afterDraw(chart,args,opts){
    const c=chart.ctx,a=chart.chartArea,xS=chart.scales.x,yS=chart.scales.y;
    c.save();
    c.strokeStyle='#222';c.lineWidth=2;c.beginPath();
    xS.ticks.forEach(t=>{const p=xS.getPixelForValue(t.value);c.moveTo(p,a.bottom);c.lineTo(p,a.bottom-14);});
    yS.ticks.forEach(t=>{const p=yS.getPixelForValue(t.value);c.moveTo(a.left,p);c.lineTo(a.left+12,p);c.moveTo(a.right,p);c.lineTo(a.right-12,p);});
    c.stroke();
    c.strokeStyle='#6e6e6e';c.lineWidth=4;c.strokeRect(a.left,a.top,a.right-a.left,a.bottom-a.top);
    c.fillStyle='#111';c.font='83px "Liberation Serif"';c.textAlign='left';c.textBaseline='alphabetic';
    c.fillText(opts.caption,924,1135);
    c.translate(82,opts.labelY);c.rotate(-Math.PI/2);c.fillStyle='#444';c.font='68px "Liberation Sans"';c.textAlign='center';
    c.fillText('Period  (days)',0,0);
    c.restore();
  }
};
const toPts=q=>{const o=[];for(let k=0;k<q.length;k+=2)o.push({x:q[k],y:2**q[k+1]});return o;};
const lineSets=(list,width,colour,order)=>list.map(q=>({type:'scatter',data:toPts(q),showLine:true,borderColor:colour,borderWidth:width,borderCapStyle:'round',borderJoinStyle:'round',pointRadius:0,tension:.35,clip:0,order,fill:false}));
const blobSets=(list,width,colour,order)=>list.map(q=>({type:'scatter',data:toPts(q),showLine:false,pointRadius:0,order,blobWidth:width,blobColour:colour}));
const pts=list=>list.map(p=>({x:p[0],y:2**p[1]}));
const spriteSet=(list,style)=>({type:'scatter',data:pts(list),pointStyle:style,pointRadius:4,pointHoverRadius:4,showLine:false,order:6,clip:0,borderWidth:0});
function buildPanel(id,power,deep,light,big,wide,teal,sDeepL,sHigh,sLowL,fine,med,bold,heavy,massive,rings,bands,flecks,patches,caption,labelY){
  const cells=[];rowLog2Periods.forEach((L,i)=>colMonths.forEach((m,j)=>cells.push({x:m,y:2**L,v:power[i][j]})));
  const datasets=[{type:'scatter',label:'power',data:cells,pointRadius:0,showLine:false,order:9},
    spriteSet(sHigh,sTall),spriteSet(sLowL,sLow),spriteSet(sDeepL,sTallDeep),spriteSet(wide,sWide),spriteSet(light,sLight),spriteSet(big,sBig),spriteSet(deep,sDeep),spriteSet(teal,sTeal),
    ...blobSets(fine,15,'#000',5),...blobSets(med,17,'#000',5),...blobSets(bold,21,'#000',5),...blobSets(heavy,28,'#000',5),...blobSets(massive,37,'#000',5),
    ...blobSets(flecks,6,'#8cc46c',4),...blobSets(patches,17,'#c6b452',4),
    ...lineSets(rings,10,'#000',3),...lineSets(bands,12,'#000',3),
    {type:'scatter',label:'cone',data:pts(coiLeft.concat(coiRight)),showLine:true,cubicInterpolationMode:'monotone',borderColor:'#123028',borderWidth:2,pointRadius:0,fill:'start',backgroundColor:'rgba(255,255,255,.5)',order:1,clip:0}];
  new Chart(document.getElementById(id),{type:'scatter',data:{datasets},plugins:[heatPlugin],options:{
    responsive:false,animation:false,devicePixelRatio:1,events:[],
    layout:{padding:{top:39,right:70,left:0,bottom:0}},
    plugins:{legend:{display:false},tooltip:{enabled:false},heatCells:{caption,labelY}},
    scales:{
      x:{type:'linear',min:0,max:60,afterBuildTicks:s=>{s.ticks=xTickMonths.map(value=>({value}));},afterFit:s=>{s.height=223;s.paddingLeft=0;s.paddingRight=0;},
        grid:{display:false},border:{display:false},
        ticks:{autoSkip:false,maxRotation:0,minRotation:0,padding:28,labelOffset:-3,color:'#444',font:{size:60,family:'"Liberation Sans"'},callback:v=>xTickLabels[xTickMonths.indexOf(v)]}},
      y:{type:'logarithmic',reverse:true,min:2,max:2**9.27,afterBuildTicks:s=>{s.ticks=yTickPeriods.map(value=>({value}));},afterFit:s=>{s.width=247;s.paddingTop=0;s.paddingBottom=0;},
        grid:{display:false},border:{display:false},
        ticks:{autoSkip:false,padding:22,labelOffset:2,color:'#444',font:{size:58,family:'"Liberation Sans"'},callback:v=>String(v)}}
    }}});
}
buildPanel('ja',jinanPower,jinanMinimaDeep,jinanMinimaLight,jinanMinimaBig,jinanMinimaWide,jinanTealHollows,jinanStreakDeep,jinanStreakHigh,jinanStreakLow,jinanFine,jinanMedium,jinanBold,jinanHeavy,jinanMassive,jinanRings,jinanBands,jinanFlecks,jinanPatches,'(a)   Jinan',372);
buildPanel('qa',qingdaoPower,qingdaoMinimaDeep,qingdaoMinimaLight,qingdaoMinimaBig,qingdaoMinimaWide,qingdaoTealHollows,qingdaoStreakDeep,qingdaoStreakHigh,qingdaoStreakLow,qingdaoFine,qingdaoMedium,qingdaoBold,qingdaoHeavy,qingdaoMassive,qingdaoRings,qingdaoBands,qingdaoFlecks,qingdaoPatches,'(b)   Qingdao',372);

const barFrame={id:'barFrame',afterDraw(chart){
  const c=chart.ctx,a=chart.chartArea,yS=chart.scales.y;c.save();
  c.strokeStyle='#222';c.lineWidth=2;c.beginPath();
  barTickPowers.forEach(v=>{const p=yS.getPixelForValue(v);c.moveTo(a.right,p);c.lineTo(a.right-7,p);});c.stroke();
  c.strokeStyle='#777';c.lineWidth=3;c.strokeRect(a.left,a.top,a.right-a.left,a.bottom-a.top);c.restore();
}};
function buildBar(id,range,top,bottom){
  const n=170,sets=[];
  for(let i=0;i<n;i++){const lo=-range+2*range*i/n,hi=-range+2*range*(i+1.3)/n;
    const col=colourOf((-8.5+17*(i+.5)/n)).map(Math.round);
    sets.push({data:[[lo,Math.min(hi,range)]],backgroundColor:`rgb(${col})`,borderWidth:0,grouped:false,barPercentage:1,categoryPercentage:1});}
  new Chart(document.getElementById(id),{type:'bar',data:{labels:['power'],datasets:sets},plugins:[barFrame],options:{
    responsive:false,animation:false,devicePixelRatio:1,events:[],
    layout:{padding:{top,bottom,left:10,right:0}},
    plugins:{legend:{display:false},tooltip:{enabled:false}},
    scales:{x:{display:false},
      y:{position:'right',min:-range,max:range,afterBuildTicks:s=>{s.ticks=barTickPowers.map(value=>({value}));},afterFit:s=>{s.width=161;s.paddingTop=0;s.paddingBottom=0;},
        grid:{display:false},border:{display:false},
        ticks:{autoSkip:false,padding:21,labelOffset:8,crossAlign:'near',color:'#444',font:{size:52,family:'"Liberation Sans"'},callback:v=>barTickLabels[barTickPowers.indexOf(v)]}}}
  }});
}
buildBar('jb',8.5,38,59);
buildBar('qb',7.67,39,56);
</script>
</body></html>
